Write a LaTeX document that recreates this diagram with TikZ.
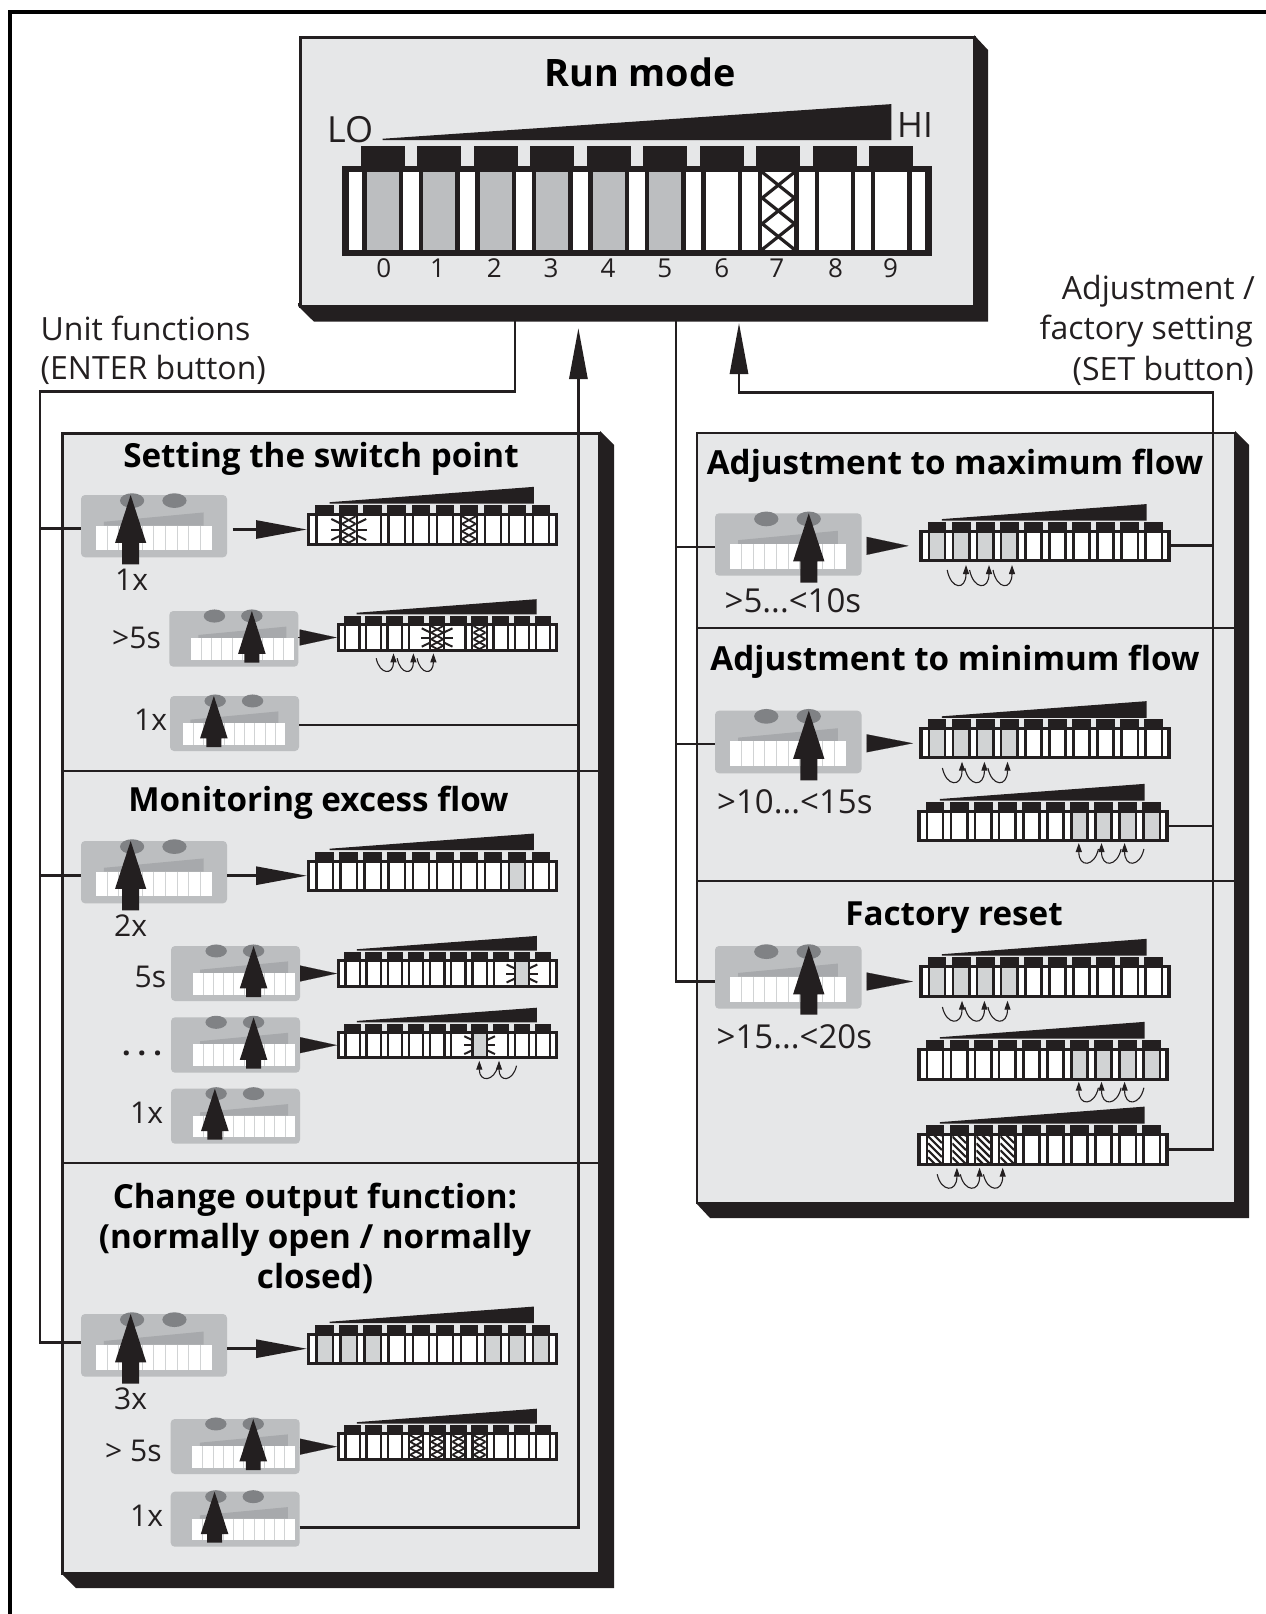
\documentclass[tikz,border=0pt]{standalone}
\usepackage{fontspec}
\setmainfont{Open Sans}
\usetikzlibrary{arrows.meta}
\definecolor{ink}{HTML}{231F20}
\definecolor{face}{HTML}{E6E7E8}
\definecolor{gb}{HTML}{BCBEC0}
\definecolor{gs}{HTML}{D1D3D4}
\definecolor{devg}{HTML}{BCBEC0}
\definecolor{devd}{HTML}{A7A9AC}
\definecolor{btn}{HTML}{808285}
\colorlet{cellg}{gs}
\tikzset{
  conn/.style={draw=ink,line width=2.9pt,line join=miter},
  tiplong/.style={conn,-{Triangle[length=51pt,width=18pt]}},
  hopline/.style={draw=ink,line width=1.1pt,-{Triangle[length=9pt,width=6pt]}},
  lab/.style={text=ink,inner sep=0pt,anchor=base west,font=\fontsize{30}{36}\selectfont},
  labw/.style={lab,font=\fontsize{33}{38}\selectfont},
  side/.style={lab,font=\fontsize{32}{38}\selectfont},
  sider/.style={side,anchor=base east},
  digit/.style={lab,anchor=base,font=\fontsize{26}{30}\selectfont},
  ttl/.style={text=black,inner sep=0pt,anchor=base,font=\bfseries\fontsize{33.2}{38}\selectfont},
  panel/.style={fill=face,draw=ink,inner sep=0pt,anchor=north west},
}
% cell painters
\newcommand\ledcellw{\fill[white] (\cxl,\cyt) rectangle (\cxr,\cyb);}
\newcommand\ledcellg{\fill[cellg] (\cxl,\cyt) rectangle (\cxr,\cyb);}
\newcommand\ledcellx{\fill[white] (\cxl,\cyt) rectangle (\cxr,\cyb);
  \begin{scope}\clip (\cxl,\cyt) rectangle (\cxr,\cyb);
  \pgfmathsetmacro\uu{(\cyb-\cyt)/(\bh>60?3:3.5)}
  \foreach \k in {-1,...,4}{
    \draw[ink,line width=\xlw pt] (\cxl,\cyt+\k*\uu) -- (\cxr,\cyt+\k*\uu+\uu);
    \draw[ink,line width=\xlw pt] (\cxr,\cyt+\k*\uu) -- (\cxl,\cyt+\k*\uu+\uu);}
  \end{scope}}
\newcommand\ledcells{\fill[white] (\cxl,\cyt) rectangle (\cxr,\cyb);
  \begin{scope}\clip (\cxl,\cyt) rectangle (\cxr,\cyb);
  \foreach \k in {-3,...,4}{
    \draw[ink,line width=2.2pt] (\cxl,\cyt+\k*7) -- (\cxr,\cyt+\k*7+\cxr-\cxl);}
  \end{scope}}
\newcommand\ledcellb{\ledcellx}
\newcommand\ledcellr{\ledcellg}
\newcommand\ledrayw{}
\newcommand\ledrayg{}
\newcommand\ledrayx{}
\newcommand\ledrays{}
\newcommand\ledrayb{\ledrayany}
\newcommand\ledrayr{\ledrayany}
\newcommand\ledrayany{%
  \pgfmathsetmacro\ym{(\cyt+\cyb)/2}
  \pgfmathsetmacro\hh{(\cyb-\cyt)/2}
  \fill[white] (\cxl-\tk-\pit*0.34,\cyt) rectangle (\cxl-\tk,\cyb);
  \fill[white] (\cxr+\tk,\cyt) rectangle (\cxr+\tk+\pit*0.34,\cyb);
  \foreach \sg/\ed in {-1/\cxl,1/\cxr}{
    \draw[ink,line width=2pt] (\ed+\sg*\tk*0.5,\ym) -- (\ed+\sg*\pit*0.46,\ym);
    \draw[ink,line width=2pt] (\ed+\sg*\tk*0.5,\ym-\hh*0.45) -- (\ed+\sg*\pit*0.44,\ym-\hh*0.8);
    \draw[ink,line width=2pt] (\ed+\sg*\tk*0.5,\ym+\hh*0.45) -- (\ed+\sg*\pit*0.44,\ym+\hh*0.8);}
}
% name, xL, yT, xR, yB, cell list
\newcommand\ledbar[6]{%
  \pgfmathsetmacro\bw{#4-#2}
  \pgfmathsetmacro\bh{#5-#3}
  \pgfmathsetmacro\pit{\bw*0.0958}
  \pgfmathsetmacro\fst{#2+\bw*(\bh>60?0.069:0.0705)}
  \pgfmathsetmacro\fr{\bh>60?6.5:3}
  \pgfmathsetmacro\tk{\pit*(\bh>60?0.075:0.105)}
  \pgfmathsetmacro\cw{\pit*0.57}
  \pgfmathsetmacro\xlw{\bh>60?3.2:1.8}
  \pgfmathsetmacro\keyt{#3-\bh*(\bh>60?0.22:0.25)}
  \pgfmathsetmacro\wb{\keyt-(\bh>60?5.6:1.5)}
  \pgfmathsetmacro\wt{\wb-\bh*(\bh>60?0.40:0.52)}
  \pgfmathsetmacro\wl{\fst+\pit*(\bh>60?0:0.2)}
  \pgfmathsetmacro\wr{\fst+\pit*(\bh>60?9:8.7)}
  \fill[ink] (\wl,\wb) -- (\wl,\wb-1.5) -- (\wr,\wt) -- (\wr,\wb) -- cycle;
  \foreach \i in {0,...,9}{
    \pgfmathsetmacro\cx{\fst+\i*\pit}
    \fill[ink] (\cx-\pit*0.39,\keyt) rectangle (\cx+\pit*0.39,#3+1);}
  \node[fill=ink,inner sep=0pt,outer sep=0pt,minimum width=\bw pt,minimum height=\bh pt,anchor=north west] (#1) at (#2,#3) {};
  \fill[white] (#2+\fr*1.1,#3+\fr) rectangle (#4-\fr*1.1,#5-\fr);
  \pgfmathsetmacro\cyt{#3+\fr}
  \pgfmathsetmacro\cyb{#5-\fr}
  \foreach \c [count=\j from 0] in {#6}{
    \pgfmathsetmacro\cxl{\fst+\j*\pit-\cw/2}
    \pgfmathsetmacro\cxr{\fst+\j*\pit+\cw/2}
    \fill[ink] (\cxl-\tk,\cyt) rectangle (\cxr+\tk,\cyb);
    \csname ledcell\c\endcsname}
  \foreach \c [count=\j from 0] in {#6}{
    \pgfmathsetmacro\cxl{\fst+\j*\pit-\cw/2}
    \pgfmathsetmacro\cxr{\fst+\j*\pit+\cw/2}
    \csname ledray\c\endcsname}
}
% name, x0, y0, w, h, button 0/1, white offset, arrow tail
\newcommand\device[8]{%
  \node[fill=devg,rounded corners=4pt,inner sep=0pt,outer sep=0pt,minimum width=#4 pt,minimum height=#5 pt,anchor=north west] (#1) at (#2,#3) {};
  \pgfmathsetmacro\ey{#3+0.09*#5}
  \pgfmathsetmacro\exa{#2+0.35*#4}
  \pgfmathsetmacro\exb{#2+0.64*#4}
  \fill[btn] (\exa,\ey) ellipse [x radius=0.083*#4,y radius=0.118*#5];
  \fill[btn] (\exb,\ey) ellipse [x radius=0.083*#4,y radius=0.118*#5];
  \pgfmathsetmacro\wxl{#2+(0.1+#7)*#4}
  \pgfmathsetmacro\wxw{0.795*#4}
  \pgfmathsetmacro\wyt{#3+0.49*#5}
  \pgfmathsetmacro\wyb{#3+0.885*#5}
  \fill[devd] (\wxl+0.072*\wxw,#3+0.43*#5) -- (\wxl+0.93*\wxw,#3+0.28*#5) -- (\wxl+0.93*\wxw,\wyt) -- (\wxl+0.072*\wxw,\wyt) -- cycle;
  \fill[white] (\wxl,\wyt) rectangle (\wxl+\wxw,\wyb);
  \foreach \i in {1,...,9}{\draw[gs,line width=0.7pt] (\wxl+\i*\wxw/10,\wyt) -- (\wxl+\i*\wxw/10,\wyb);}
  \pgfmathsetmacro\bx{#6==1?\exb:\exa-0.01*#4}
  \pgfmathsetmacro\hy{#3+0.77*#5}
  \pgfmathsetmacro\ty{#3+#5+#8}
  \fill[ink] (\bx,#3) -- (\bx+0.107*#4,\hy) -- (\bx+0.058*#4,\hy) -- (\bx+0.058*#4,\ty) -- (\bx-0.058*#4,\ty) -- (\bx-0.058*#4,\hy) -- (\bx-0.107*#4,\hy) -- cycle;
}
% x start, y start, x tip, y tip, y bottom
\newcommand\hop[5]{%
  \draw[hopline] (#1,#2) .. controls (#1+0.2*#3-0.2*#1,#5+4) and (#3,#5+5) .. (#3,#4);
}
\begin{document}
\begin{tikzpicture}[x=1pt,y=-1pt]
\useasboundingbox (0,0) rectangle (1266,1614);
% outer frame
\draw[black,line width=4pt] (9.5,1614) -- (9.5,12) -- (1266,12);

% left panel
\fill[ink] (600,431) -- (614,445) -- (614,1588) -- (76,1588) -- (61,1573) -- (61,1570) -- (598,1570) -- cycle;
\node[panel,line width=3.2pt,minimum width=537pt,minimum height=1140pt] (pleft) at (61,431.7) {};
\draw[ink,line width=2.2pt] (pleft.west |- 0,770.7) -- (pleft.east |- 0,770.7);
\draw[ink,line width=2.2pt] (pleft.west |- 0,1163) -- (pleft.east |- 0,1163);
% right panel
\fill[ink] (1235,431) -- (1249,445) -- (1249,1218) -- (710,1218) -- (696,1203) -- (696,1200) -- (1233.6,1200) -- cycle;
\node[panel,line width=2pt,minimum width=537.6pt,minimum height=770pt] (pright) at (696,432.3) {};
\draw[ink,line width=2pt] (pright.west |- 0,627.5) -- (pright.east |- 0,627.5);
\draw[ink,line width=2pt] (pright.west |- 0,881) -- (pright.east |- 0,881);

% run mode box
\fill[ink] (974,35) -- (988,50) -- (988,321.7) -- (314,321.7) -- (298,306) -- (298,303) -- (973,303) -- cycle;
\node[panel,line width=3.2pt,minimum width=674pt,minimum height=269pt] (run) at (299,36) {};
\node[ttl,font=\bfseries\fontsize{37.8}{44}\selectfont] (trun) at (640,86) {Run mode};
\begin{scope}
\colorlet{cellg}{gb}
\ledbar{barrun}{342}{165.7}{932}{256}{g,g,g,g,g,g,w,x,w,w}
\end{scope}
\node[lab,font=\fontsize{36}{40}\selectfont] (lo) at (327,142.7) {LO};
\node[lab,font=\fontsize{35}{40}\selectfont] (hi) at (897,137) {HI};
\foreach \d/\xx in {0/383.8,1/437.5,2/494.4,3/551,4/608,5/664.8,6/721.7,7/776.8,8/835.6,9/890.6}{
  \node[digit] (dig\d) at (\xx,277) {\d};}

% side labels
\node[side] (uf1) at (40.5,340) {Unit functions};
\node[side] (uf2) at (40.5,379) {(ENTER button)};
\node[sider] (as1) at (1255,299) {Adjustment /};
\node[sider] (as2) at (1253,339) {factory setting};
\node[sider] (as3) at (1254,380) {(SET button)};

% titles
\node[ttl] (t1) at (321,467.5) {Setting the switch point};
\node[ttl] (t2) at (318.5,811) {Monitoring excess flow};
\node[ttl] (t3a) at (315,1208) {Change output function:};
\node[ttl] (t3b) at (315,1248) {(normally open / normally};
\node[ttl] (t3c) at (315,1288) {closed)};
\node[ttl] (t4) at (955,474) {Adjustment to maximum flow};
\node[ttl] (t5) at (955,670) {Adjustment to minimum flow};
\node[ttl] (t6) at (954,925) {Factory reset};

% devices
\device{da1}{81}{495}{146}{62.3}{0}{0}{7}
\device{da2}{169.3}{611}{129}{55.7}{1}{0.068}{-4}
\device{da3}{170}{696}{129}{55}{0}{0}{-4}
\device{db1}{81}{841}{146}{62.3}{0}{0}{7}
\device{db2}{171}{946}{129}{55}{1}{0.068}{-4}
\device{db3}{171}{1017.3}{129}{55.4}{1}{0.068}{-4}
\device{db4}{171}{1088.7}{129}{55}{0}{0.068}{-4}
\device{dc1}{81}{1314}{146}{62.7}{0}{0}{7}
\device{dc2}{170.7}{1419}{129}{55}{1}{0.068}{-4}
\device{dc3}{170.7}{1491.7}{129}{55}{0}{0.068}{-4}
\device{dd1}{715}{513.3}{146.5}{62.4}{1}{0}{7}
\device{dd2}{715}{710.7}{146.5}{62.6}{1}{0}{7}
\device{df}{715}{946}{146.5}{62.7}{1}{0}{6}

% bars
\ledbar{ba1}{307}{513.3}{558}{545.7}{w,b,w,w,w,w,x,w,w,w}
\ledbar{ba2}{336.7}{623}{558}{652}{w,w,w,w,b,w,x,w,w,w}
\ledbar{bb1}{307}{859.7}{558}{891.7}{w,w,w,w,w,w,w,w,g,w}
\ledbar{bb2}{337}{959.3}{558}{987.7}{w,w,w,w,w,w,w,w,r,w}
\ledbar{bb3}{337}{1031}{558}{1059.3}{w,w,w,w,w,w,r,w,w,w}
\ledbar{bc1}{307}{1332.7}{558}{1364.7}{g,g,g,w,w,w,w,g,g,g}
\ledbar{bc2}{337}{1432.3}{558}{1461}{w,w,w,x,x,x,x,w,w,w}
\ledbar{bd1}{919.3}{530}{1170.7}{561.7}{g,g,g,g,w,w,w,w,w,w}
\ledbar{bd2}{919.3}{727.3}{1170.7}{759.3}{g,g,g,g,w,w,w,w,w,w}
\ledbar{bd3}{917.3}{810}{1168.7}{842}{w,w,w,w,w,w,g,g,g,g}
\ledbar{bf1}{919.3}{965.3}{1170.7}{997.7}{g,g,g,g,w,w,w,w,w,w}
\ledbar{bf2}{917.3}{1048.3}{1168.7}{1080.7}{w,w,w,w,w,w,g,g,g,g}
\ledbar{bf3}{917.3}{1133.3}{1168.7}{1166}{s,s,s,s,w,w,w,w,w,w}

% small labels
\node[lab] (la1) at (115,590) {1x};
\node[lab] (la2) at (112,648) {>5s};
\node[lab] (la3) at (134,730) {1x};
\node[lab] (lb1) at (114,936.7) {2x};
\node[lab] (lb2) at (134.5,987.7) {5s};
\node[lab,font=\bfseries\fontsize{30}{36}\selectfont] (lb3) at (122,1055) {.\hspace{7pt}.\hspace{7pt}.};
\node[lab] (lb4) at (130,1123) {1x};
\node[lab] (lc1) at (114,1409) {3x};
\node[lab] (lc2) at (105,1461) {> 5s};
\node[lab] (lc3) at (130,1526.7) {1x};
\node[labw] (ld1) at (724.5,612.5) {>5...<10s};
\node[labw] (ld2) at (717,813) {>10...<15s};
\node[labw] (lf) at (716.5,1048) {>15...<20s};

% ENTER bus
\coordinate (runa) at (515,321);
\coordinate (runb) at (578.4,328);
\coordinate (runc) at (676,321);
\coordinate (rund) at (739,323);
\coordinate (da1in) at ([yshift=-2.2pt]da1.west);
\coordinate (db1in) at ([yshift=-2.9pt]db1.west);
\coordinate (dc1in) at ([yshift=2.6pt]dc1.west);
\draw[conn] (runa) -- (515,391.7) -- (40,391.7) -- (40,0 |- dc1in) -- (dc1in);
\draw[conn] (40,0 |- da1in) -- (da1in);
\draw[conn] (40,0 |- db1in) -- (db1in);
% return to run mode, left
\coordinate (dc3out) at ([yshift=-8pt]dc3.east);
\coordinate (da3out) at ([yshift=-1.5pt]da3.east);
\draw[tiplong] (dc3out) -- (runb |- dc3out) -- (runb);
\draw[conn] (da3out) -- (runb |- da3out);
% SET bus
\coordinate (dfin) at ([yshift=-4.3pt]df.west);
\coordinate (dd1in) at ([yshift=-2.5pt]dd1.west);
\coordinate (dd2in) at ([yshift=-2pt]dd2.west);
\draw[conn] (runc) -- (runc |- dfin) -- (dfin);
\draw[conn] (runc |- dd1in) -- (dd1in);
\draw[conn] (runc |- dd2in) -- (dd2in);
% return to run mode, right
\draw[tiplong] (bf3.east) -- (1213,0 |- bf3.east) -- (1213,392.3) -- (739,392.3) -- (rund);
\draw[conn] (bd1.east) -- (1213,0 |- bd1.east);
\draw[conn] (bd3.east) -- (1213,0 |- bd3.east);

% step arrows
\draw[tiplong] (232.5,0 |- ba1.west) -- (ba1.west);
\draw[tiplong] (db1.east |- bb1.west) -- (bb1.west);
\draw[tiplong] (dc1.east |- bc1.west) -- (bc1.west);
\tikzset{short/.style={-{Triangle[length=37pt,width=16pt]},draw=ink,line width=0.1pt}}
\draw[short] (da2.east |- ba2.west) -- (ba2.west);
\draw[short] (db2.east |- bb2.west) -- (bb2.west);
\draw[short] (db3.east |- bb3.west) -- (bb3.west);
\draw[short] (dc2.east |- bc2.west) -- (bc2.west);
\tikzset{mid/.style={-{Triangle[length=42pt,width=18pt]},draw=ink,line width=0.1pt}}
\draw[mid,shorten >=10.7pt] (866.6,0 |- bd1.west) -- (bd1.west);
\tikzset{midb/.style={-{Triangle[length=46.4pt,width=18pt]},draw=ink,line width=0.1pt}}
\draw[midb,shorten >=6.3pt] (866.6,0 |- bd2.west) -- (bd2.west);
\draw[midb,shorten >=6.3pt] (866.6,0 |- bf1.west) -- (bf1.west);

% hop arrows
\foreach \a/\b in {376.2/393.5,397.2/413.4,417.1/433.4}{\hop{\a}{658.3}{\b}{653.3}{670.7}}
\foreach \a/\b in {498/479.3,516.5/499}{\hop{\a}{1065.7}{\b}{1060.7}{1077.7}}
\foreach \a/\b in {947.2/966,969.6/989,993/1012}{\hop{\a}{570}{\b}{565}{585.7}}
\foreach \a/\b in {942.4/962,964.8/984.4,987.9/1007.5}{\hop{\a}{768}{\b}{761.7}{782.7}}
\foreach \a/\b in {1098.4/1078.8,1121.1/1101.5,1143.9/1124.6}{\hop{\a}{849}{\b}{843}{863}}
\foreach \a/\b in {942.4/962,964.8/984.4,987.9/1007.5}{\hop{\a}{1007}{\b}{1000.7}{1021}}
\foreach \a/\b in {1098.4/1078.8,1121.1/1101.5,1143.9/1124.6}{\hop{\a}{1087.7}{\b}{1081.7}{1101.7}}
\foreach \a/\b in {937.2/956.9,960.3/979.6,983.4/1002.7}{\hop{\a}{1174.3}{\b}{1167.7}{1188}}
\end{tikzpicture}
\end{document}
